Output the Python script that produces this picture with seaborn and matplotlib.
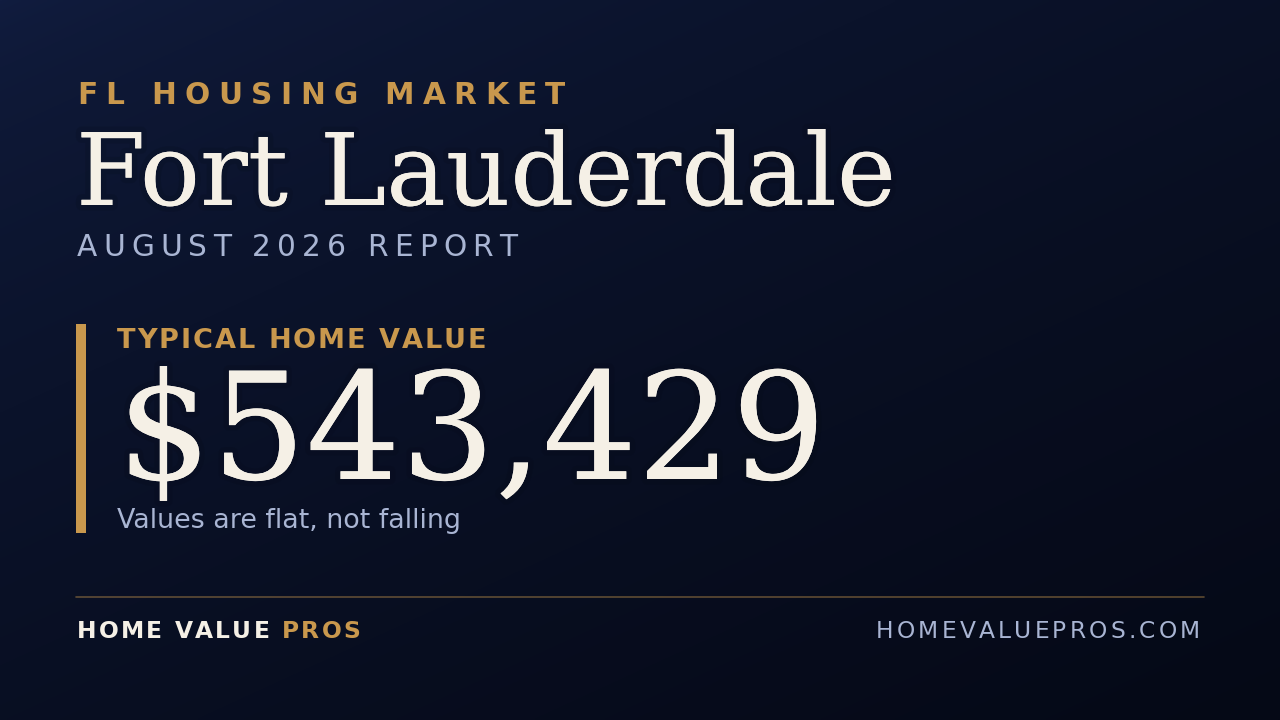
"""
Market card for the Fort Lauderdale typical home value, drawn with seaborn/matplotlib.
"""

import numpy as np
import matplotlib
matplotlib.use("Agg")
import matplotlib.pyplot as plt
import matplotlib.patheffects as pe
from matplotlib.font_manager import FontProperties
from matplotlib.patches import Rectangle
import seaborn as sns

# card content
kicker = "FL HOUSING MARKET"
city = "Fort Lauderdale"
report = "AUGUST 2026 REPORT"
metric_label = "TYPICAL HOME VALUE"
home_value = 543429
note = "Values are flat, not falling"
brand_main = "HOME VALUE "
brand_accent = "PROS"
site = "HOMEVALUEPROS.COM"

# colours
bg_top = "#111d40"
bg_bottom = "#050916"
gold = "#c9984d"
cream = "#f5f0e6"
muted = "#a9b5d3"

sns.set_theme(style="white")
plt.rcParams["font.family"] = ["DejaVu Sans"]

W, H = 1280, 720
fig = plt.figure(figsize=(12.8, 7.2), dpi=100)
ax = fig.add_axes([0, 0, 1, 1])
ax.set_xlim(0, W)
ax.set_ylim(H, 0)
ax.axis("off")

# background gradient, darkens toward the bottom faster than to the right
yy, xx = np.mgrid[0:1:240j, 0:1:420j]
t = (0.45 * xx + 0.55 * yy) ** 0.6
c0 = np.array(matplotlib.colors.to_rgb(bg_top))
c1 = np.array(matplotlib.colors.to_rgb(bg_bottom))
ax.imshow(c0 + (c1 - c0) * t[..., None], extent=[0, W, H, 0],
          aspect="auto", zorder=0, interpolation="bilinear")

renderer = fig.canvas.get_renderer()


def advance(ch, prop):
    # pen advance of one char, measured between two bars
    w2 = renderer.get_text_width_height_descent("||", prop, ismath=False)[0]
    w3 = renderer.get_text_width_height_descent("|" + ch + "|", prop, ismath=False)[0]
    return w3 - w2


def spaced(x, y, s, size, color, weight="normal", width=None, spacing=0, ha="left"):
    """Draw letter-spaced text char by char, return the end x."""
    prop = FontProperties(family="DejaVu Sans", size=size, weight=weight)
    adv = [advance(ch, prop) for ch in s]
    if width is not None:
        spacing = (width - sum(adv)) / (len(s) - 1)
    total = sum(adv) + spacing * (len(s) - 1)
    if ha == "right":
        x -= total
    for ch, a in zip(s, adv):
        ax.text(x, y, ch, fontproperties=prop, color=color,
                va="baseline", ha="left", zorder=3)
        x += a + spacing
    return x


glow = [pe.withStroke(linewidth=8, foreground="#03060e", alpha=0.12), pe.Normal()]

spaced(77, 104, kicker, 21.3, gold, weight="bold", width=488)
ax.text(76, 205, city, family="DejaVu Serif", fontsize=72, color=cream,
        va="baseline", ha="left", zorder=3, path_effects=glow)
spaced(77, 256, report, 21.3, muted, width=440)

# value block with gold rule
ax.add_patch(Rectangle((76, 324), 10, 209, color=gold, lw=0, zorder=2))
spaced(117, 348, metric_label, 19.5, gold, weight="bold", width=369)
ax.text(117, 479, f"${home_value:,}", family="DejaVu Serif", fontsize=107,
        color=cream, va="baseline", ha="left", zorder=3, path_effects=glow)
ax.text(117, 528, note, fontsize=19.4, color=muted, va="baseline", ha="left", zorder=3)

# footer
ax.plot([76, 1204], [597, 597], color=gold, alpha=0.45, lw=1.2, zorder=2)
x_end = spaced(77, 638, brand_main, 16.8, cream, weight="bold", spacing=2.2)
spaced(x_end, 638, brand_accent, 16.8, gold, weight="bold", spacing=2.2)
spaced(1200, 638, site, 16.8, muted, width=324, ha="right")

fig.savefig("out.png", dpi=100)
